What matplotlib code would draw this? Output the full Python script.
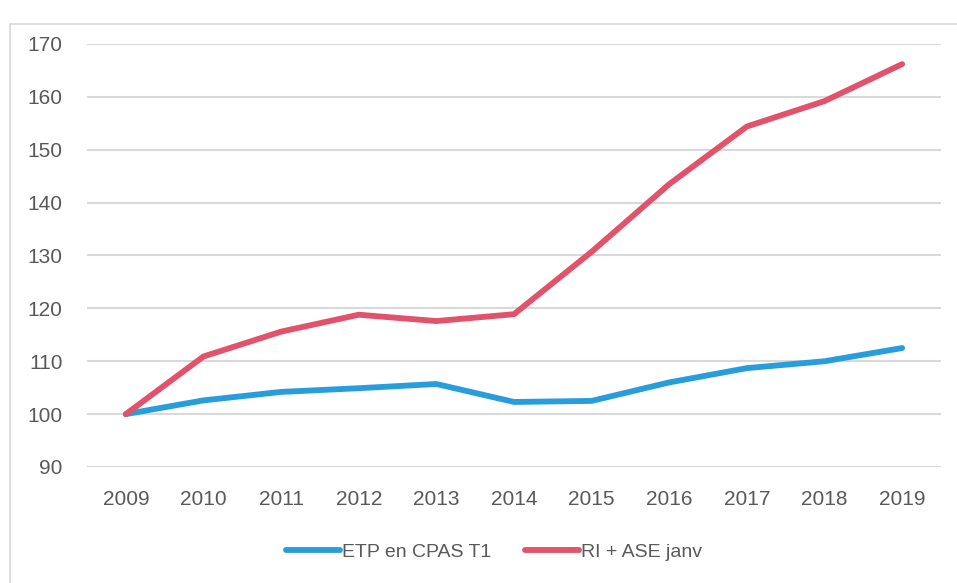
import matplotlib.pyplot as plt
from matplotlib.patches import Rectangle

years = ["2009", "2010", "2011", "2012", "2013", "2014", "2015", "2016", "2017", "2018", "2019"]
etp_cpas = [100, 102.6, 104.2, 104.9, 105.7, 102.3, 102.5, 106.0, 108.7, 110.0, 112.5]
ri_ase = [100, 110.9, 115.6, 118.8, 117.6, 118.9, 130.7, 143.5, 154.4, 159.2, 166.2]

TEXT = "#595959"
GRID = "#D9D9D9"

plt.rcParams["font.family"] = ["Liberation Sans", "DejaVu Sans"]

fig = plt.figure(figsize=(9.57, 5.83), dpi=100)
ax = fig.add_axes([87 / 957, 1 - 467 / 583, (941 - 87) / 957, (467 - 44) / 583])

x = range(len(years))
ax.plot(x, etp_cpas, color="#289DDC", lw=4.2, solid_capstyle="round",
        solid_joinstyle="round", label="ETP en CPAS T1")
ax.plot(x, ri_ase, color="#E2526B", lw=4.2, solid_capstyle="round",
        solid_joinstyle="round", label="RI + ASE janv")

ax.set_xlim(-0.5, len(years) - 0.5)
ax.set_ylim(90, 170)
ax.set_yticks(range(90, 171, 10))
ax.set_xticks(list(x))
ax.set_xticklabels(years)
ax.grid(axis="y", color=GRID, lw=1.5)
ax.set_axisbelow(True)
for s in ax.spines.values():
    s.set_visible(False)
ax.tick_params(length=0, labelsize=15, colors=TEXT)
ax.tick_params(axis="x", pad=16.5)
ax.tick_params(axis="y", pad=17.5)

leg = fig.legend(loc="center", bbox_to_anchor=(494 / 957, 1 - 552 / 583), ncol=2,
                 frameon=False, fontsize=14, handlelength=2.8, columnspacing=1.7,
                 handletextpad=0.1)
for t in leg.get_texts():
    t.set_color(TEXT)

# chart frame
fig.patches.append(Rectangle((10 / 957, -0.01), 1.0, 1 - 24 / 583 + 0.01,
                             transform=fig.transFigure, fill=False,
                             edgecolor=GRID, lw=1.2))

fig.savefig("out.png", dpi=100)
